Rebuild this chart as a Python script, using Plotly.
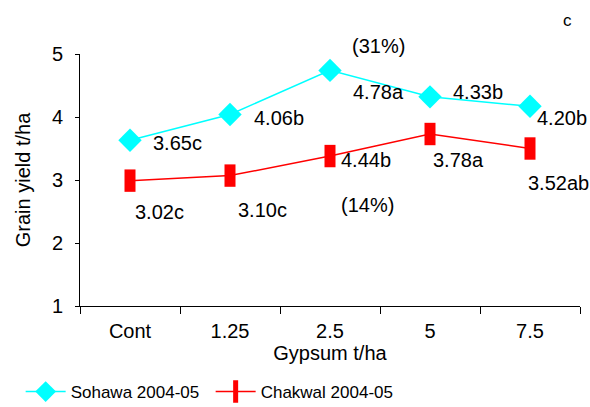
import plotly.graph_objects as go

categories = ["Cont", "1.25", "2.5", "5", "7.5"]
sohawa = [3.63, 4.04, 4.74, 4.32, 4.17]
chakwal = [2.99, 3.07, 3.38, 3.73, 3.50]
sohawa_labels = ["3.65c", "4.06b", "4.78a", "4.33b", "4.20b"]
chakwal_labels = ["3.02c", "3.10c", "4.44b", "3.78a", "3.52ab"]
y_ticks = [1, 2, 3, 4, 5]

FONT = "Liberation Sans, Arial, sans-serif"
FS = 20

fig = go.Figure()
fig.add_trace(go.Scatter(
    x=categories, y=sohawa, mode="lines+markers", name="Sohawa 2004-05",
    line=dict(color="#00FFFF", width=1.5),
    marker=dict(symbol="diamond", size=18, color="#00FFFF"),
))
fig.add_trace(go.Scatter(
    x=categories, y=chakwal, mode="lines+markers", name="Chakwal 2004-05",
    line=dict(color="#FF0000", width=1.5),
    marker=dict(symbol="line-ns", size=16, color="#FF0000",
                line=dict(color="#FF0000", width=11)),
))

s_off = [(47, 3), (49, 4), (48, 22), (48, -5), (32, 12)]
c_off = [(29, 31), (32, 34), (36, 4), (28, 26), (28, 34)]
for i in range(len(categories)):
    dx, dy = s_off[i]
    fig.add_annotation(x=i, y=sohawa[i], text=sohawa_labels[i], showarrow=False,
                       xshift=dx, yshift=-dy, font=dict(size=FS, color="black", family=FONT))
    dx, dy = c_off[i]
    fig.add_annotation(x=i, y=chakwal[i], text=chakwal_labels[i], showarrow=False,
                       xshift=dx, yshift=-dy, font=dict(size=FS, color="black", family=FONT))

fig.add_annotation(x=2, y=sohawa[2], text="(31%)", showarrow=False,
                   xshift=48, yshift=24, font=dict(size=FS, color="black", family=FONT))
fig.add_annotation(x=2, y=chakwal[2], text="(14%)", showarrow=False,
                   xshift=37, yshift=-49, font=dict(size=FS, color="black", family=FONT))
fig.add_annotation(x=(567 - 80) / 500, y=(306 - 20) / 252, xref="paper", yref="paper",
                   xanchor="center", yanchor="middle",
                   text="c", showarrow=False, font=dict(size=17, color="black", family=FONT))

fig.update_layout(
    width=590, height=407,
    margin=dict(l=80, r=10, t=54, b=101, autoexpand=False),
    paper_bgcolor="white", plot_bgcolor="white",
    font=dict(family=FONT, size=FS, color="black"),
    showlegend=True,
    legend=dict(orientation="h", xref="container", yref="container",
                x=0.035, y=1 - 392/407, xanchor="left", yanchor="middle",
                font=dict(size=17, family=FONT), itemwidth=40,
                entrywidth=135, entrywidthmode="pixels", bgcolor="rgba(0,0,0,0)"),
    xaxis=dict(type="category", range=[-0.5, 4.5], tickson="boundaries",
               ticks="outside", ticklen=7, tickcolor="black", showline=True,
               linecolor="black", linewidth=1, showgrid=False, zeroline=False,
               automargin=False, ticklabelstandoff=7,
               title=dict(text="Gypsum t/ha", font=dict(size=FS), standoff=4),
               tickfont=dict(size=FS)),
    yaxis=dict(range=[1, 5], tickvals=y_ticks, ticks="outside", ticklen=4,
               tickcolor="black", showline=True, linecolor="black", linewidth=1,
               showgrid=False, zeroline=False, automargin=False,
               ticklabelstandoff=8,
               title=dict(text="Grain yield t/ha", font=dict(size=FS), standoff=15),
               tickfont=dict(size=FS)),
)

fig.write_html("out.html", config={"displayModeBar": False},
               post_script="document.body.style.margin='0';")
